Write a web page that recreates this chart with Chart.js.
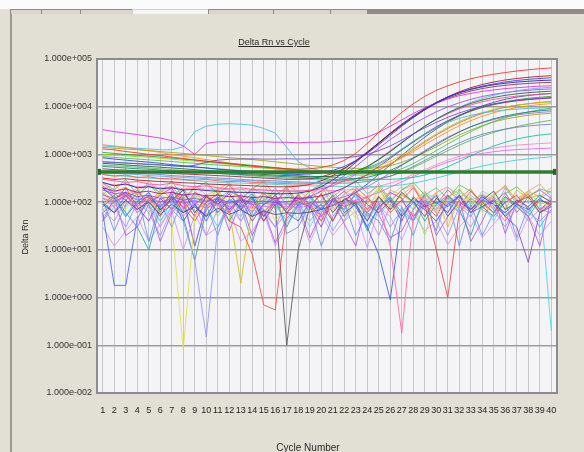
<!DOCTYPE html>
<html>
<head>
<meta charset="utf-8">
<script src="https://cdn.jsdelivr.net/npm/chart.js@4.4.1/dist/chart.umd.min.js"></script>
<style>
  body { margin: 0; background: #e2dfd4; font-family: "Liberation Sans", Arial, sans-serif; }
  #wrap { position: relative; width: 584px; height: 452px; overflow: hidden; }
  #topband { position: absolute; left: 0; top: 0; width: 584px; height: 9px; background: #fbfbfb; }
  .tab { position: absolute; top: 9px; height: 4px; background: #d9d6cb; border: 1px solid #8d8b83; border-bottom: none; }
  #panel { position: absolute; left: 10px; top: 14px; width: 574px; height: 438px; border-left: 2px solid #9a978e; }
  canvas { position: absolute; left: 0; top: 0; }
  .lbl { position: absolute; color: #2a2a2a; white-space: nowrap; text-align: center; }
</style>
</head>
<body>
<div id="wrap">
  <div id="topband"></div>
  <div class="tab" style="left:10px;width:30px"></div>
  <div class="tab" style="left:41px;width:38px"></div>
  <div class="tab" style="left:80px;width:51px"></div>
  <div class="tab" style="left:132px;width:75px;background:#f6f6f4;border-color:#cfcfcf"></div>
  <div class="tab" style="left:208px;width:64px"></div>
  <div class="tab" style="left:273px;width:56px"></div>
  <div class="tab" style="left:330px;width:36px"></div>
  <div class="tab" style="left:367px;width:217px;background:#8e8c88;border-color:#8e8c88"></div>
  <div id="panel"></div>
  <canvas id="chart" width="584" height="452"></canvas>
  <div class="lbl" style="left:174px;top:36px;width:200px;font-size:9px;line-height:12px;text-decoration:underline">Delta Rn vs Cycle</div>
  <div class="lbl" style="left:208px;top:442px;width:200px;font-size:10px;line-height:12px">Cycle Number</div>
  <div class="lbl" style="left:-15px;top:231px;width:80px;font-size:9px;line-height:12px;transform:rotate(-90deg)">Delta Rn</div>
</div>
<script>
const cycles = [1, 2, 3, 4, 5, 6, 7, 8, 9, 10, 11, 12, 13, 14, 15, 16, 17, 18, 19, 20,
  21, 22, 23, 24, 25, 26, 27, 28, 29, 30, 31, 32, 33, 34, 35, 36, 37, 38, 39, 40];

const yTickValues = [0.01, 0.1, 1, 10, 100, 1000, 10000, 100000];
const yTickLabels = ["1.000e-002", "1.000e-001", "1.000e+000", "1.000e+001",
  "1.000e+002", "1.000e+003", "1.000e+004", "1.000e+005"];

const threshold = 430;

// amplifying wells
const a1 = [1300,1250,1150,1080,1000,950,880,820,770,720,680,640,600,570,540,520,500,490,500,530,
  600,750,1050,1700,2900,4800,7600,11500,16500,22000,27500,33000,38500,43500,48000,52000,56000,59500,62500,65000];
const a2 = [850,800,760,720,690,650,610,580,550,520,490,470,450,430,410,400,390,380,390,410,
  460,560,740,1050,1600,2500,3900,5900,8600,12000,15800,19800,23500,27000,30000,33000,35500,37500,39000,40500];
const a3 = [3300,3000,2800,2600,2400,2200,1950,1500,1000,1700,1850,1850,1800,1800,1850,1800,1800,1750,1800,1800,
  1850,1900,2000,2300,2900,3900,5300,7200,9500,12000,14500,17000,19000,21000,22500,24000,25000,26000,27000,27500];
const a4 = [1500,1450,1400,1350,1300,1250,1250,1450,3000,3900,4300,4400,4300,4100,3500,2800,1400,700,520,450,
  420,400,420,480,620,880,1300,1900,2700,3700,4700,5700,6600,7400,8000,8500,8900,9200,9400,9600];
const a5 = [700,680,660,640,620,600,580,560,590,680,760,790,800,810,800,800,810,800,810,820,
  830,850,900,1000,1200,1500,2000,2700,3600,4700,6000,7400,8800,10200,11500,12600,13600,14400,15000,15500];
const a6 = [1100,1050,1000,960,920,880,840,800,760,720,680,650,620,590,560,530,500,470,450,430,
  420,420,450,520,650,880,1250,1800,2600,3600,4900,6400,8000,9700,11300,12700,14000,15000,15800,16500];
const a7 = [650,630,600,580,560,540,520,500,480,460,440,420,400,390,380,370,360,350,340,340,
  350,380,440,560,780,1150,1750,2650,3900,5500,7400,9500,11700,13800,15700,17300,18600,19700,20500,21200];
const a8 = [1600,1500,1400,1300,1200,1100,1000,920,850,780,720,660,610,570,530,500,470,450,430,420,
  410,410,420,450,520,640,840,1150,1600,2200,3000,4000,5100,6300,7500,8600,9600,10400,11100,11600];
const a9 = [1000,980,940,900,870,830,790,760,720,680,650,620,590,560,540,520,500,480,460,450,
  440,440,460,500,580,720,960,1350,1900,2700,3700,4900,6200,7500,8800,9900,10800,11500,12100,12600];
const a10 = [500,480,470,450,440,420,400,390,380,370,360,350,340,330,320,310,300,300,310,340,
  400,510,720,1080,1700,2700,4100,6100,8700,11700,15000,18300,21300,24000,26300,28100,29600,30800,31700,32400];
const a11 = [420,400,390,380,360,350,340,330,320,310,300,290,280,280,270,260,260,250,250,260,
  280,320,400,540,770,1150,1750,2650,3900,5500,7500,9800,12300,14900,17400,19700,21700,23300,24600,25600];
const a12 = [180,150,160,130,140,120,130,110,120,105,115,100,110,100,105,98,102,110,130,170,
  240,360,560,880,1350,2050,3000,4300,5900,7800,9900,12100,14300,16400,18200,19800,21100,22100,23000,23600];
const a13 = [300,280,260,270,240,230,250,220,210,220,200,190,200,185,180,175,170,170,175,190,
  220,280,380,540,800,1200,1800,2700,3900,5400,7100,9000,10900,12700,14300,15600,16700,17600,18300,18800];
const a14 = [560,540,520,500,490,470,450,440,430,410,400,390,380,370,360,350,340,330,320,310,
  300,300,310,330,380,460,600,820,1150,1600,2200,2950,3800,4700,5600,6400,7100,7700,8200,8600];
const a15 = [260,220,240,200,210,190,200,180,185,175,170,165,160,160,155,150,150,155,170,210,
  290,430,680,1100,1750,2800,4300,6400,9100,12300,15900,19600,23000,26100,28800,31000,32800,34200,35300,36100];
const a16 = [900,870,830,800,770,740,710,680,650,620,600,580,560,540,520,500,480,460,440,420,
  400,380,370,370,380,420,500,640,870,1200,1650,2250,3000,3900,4900,5900,6900,7800,8600,9300];
const a17 = [380,350,370,330,340,310,320,300,290,300,280,270,275,260,255,250,245,240,240,245,
  255,275,310,370,470,630,880,1250,1800,2550,3500,4600,5900,7200,8500,9700,10700,11600,12300,12900];
const a18 = [700,680,660,640,620,600,580,560,540,520,500,480,460,440,420,400,380,360,350,340,
  330,320,310,300,300,300,310,330,370,440,550,710,930,1200,1500,1800,2100,2350,2550,2700];
const a19 = [140,120,150,110,130,100,120,95,110,90,105,95,100,90,95,88,92,90,95,100,
  110,130,160,210,290,410,590,850,1200,1700,2300,3000,3800,4600,5400,6100,6700,7200,7600,7900];
const a20 = [200,170,190,160,170,150,160,140,150,135,140,130,135,125,130,120,125,120,125,135,
  160,200,270,380,560,830,1250,1850,2700,3800,5100,6600,8200,9700,11100,12300,13300,14100,14700,15200];
const a21 = [450,440,420,400,390,380,360,350,340,330,320,310,300,290,285,280,270,265,260,255,
  250,250,255,270,300,350,430,560,750,1000,1350,1750,2200,2650,3050,3400,3700,3950,4150,4300];
const a22 = [1400,1350,1300,1250,1200,1150,1100,1050,1000,950,900,860,820,780,740,700,660,620,590,560,
  540,520,510,510,530,580,680,850,1100,1450,1950,2550,3250,4000,4800,5500,6100,6600,7000,7300];
const a23 = [250,230,240,210,220,200,210,190,200,185,190,180,185,175,180,170,175,170,175,170,
  175,180,185,195,215,250,300,380,480,610,760,920,1080,1230,1360,1470,1560,1630,1690,1740];
const a24 = [320,300,310,290,280,270,265,255,250,240,235,230,225,220,215,210,210,215,235,280,
  360,500,740,1130,1750,2700,4100,6100,8800,12200,16200,20600,25000,29200,33000,36300,39100,41400,43200,44700];
const a25 = [380,360,350,330,320,310,300,290,280,270,260,255,250,245,240,235,230,225,220,218,
  215,212,210,210,212,218,230,250,280,320,370,430,500,570,640,700,760,810,850,890];
const a26 = [120,100,130,90,110,85,100,80,95,75,90,80,85,78,82,76,80,78,82,85,
  90,98,110,130,160,205,265,345,445,560,690,820,940,1050,1140,1210,1260,1300,1330,1350];
const a27 = [600,580,560,540,520,500,480,460,440,420,400,385,370,355,340,330,320,310,300,290,
  285,280,280,290,310,350,420,530,690,910,1200,1560,1980,2430,2900,3380,3850,4300,4750,5200];
const a28 = [90,60,110,70,100,55,90,60,80,50,75,55,70,50,65,55,60,58,62,70,
  85,110,160,240,380,600,950,1500,2300,3400,4800,6500,8400,10400,12400,14300,15900,17200,18200,19000];

// non-amplifying (noisy) wells
const n1 = [60,1.8,1.8,45,120,80,150,60,90,40,110,70,130,50,90,120,60,40,100,70,
  140,60,90,30,80,120,50,100,70,40,90,130,60,80,110,50,90,70,120,80];
const n2 = [90,130,70,150,110,60,40,0.08,50,120,80,160,100,70,130,40,90,150,60,100,
  70,120,45,90,140,80,60,110,150,70,40,100,130,60,90,120,70,150,100,80];
const n3 = [40,80,30,100,60,20,70,40,6,0.15,30,90,50,110,70,30,60,100,40,80,
  25,60,110,50,90,30,70,40,100,60,20,80,50,120,70,30,90,60,40,70];
const n4 = [150,100,200,80,130,60,170,110,50,140,90,40,30,8,0.7,0.55,60,120,80,150,
  40,100,180,70,130,60,110,200,90,50,140,80,170,100,60,130,90,150,70,110];
const n5 = [200,120,160,90,140,70,110,180,60,130,90,150,70,120,40,90,0.1,10,80,150,
  60,120,90,40,130,70,160,100,50,120,80,140,60,110,170,70,100,130,60,90];
const n6 = [120,80,160,60,100,140,70,110,50,130,90,60,150,80,40,110,70,130,90,50,
  120,80,150,60,100,12,0.18,50,110,70,140,90,60,120,80,40,100,150,70,90];
const n7 = [70,110,50,130,90,40,100,60,140,80,30,110,70,50,120,90,40,80,130,60,
  100,70,150,50,90,120,60,40,110,80,130,60,100,70,50,120,90,60,150,0.2];
const n8 = [100,60,140,80,40,120,70,150,90,50,130,70,110,40,90,140,60,100,80,30,
  120,70,150,90,60,110,40,130,80,100,60,140,70,110,90,50,30,5.5,60,80];
const n9 = [80,130,50,100,160,70,120,40,90,140,60,110,80,130,50,100,70,150,60,90,
  40,120,80,30,8,0.9,60,120,80,140,50,100,70,130,90,60,110,80,140,100];
const n10 = [60,100,140,70,110,50,130,80,40,100,150,60,120,90,50,110,70,140,90,40,
  120,80,100,60,130,70,110,50,90,10,1,60,120,80,50,100,140,70,110,90];
const n11 = [250,180,300,140,220,160,280,120,200,260,150,230,110,190,270,140,210,90,170,240,
  130,200,280,150,220,100,180,260,140,200,120,230,170,90,60,150,210,130,190,160];
const n12 = [180,240,130,200,90,160,220,110,190,70,150,230,120,180,60,140,200,100,170,230,
  80,150,210,120,60,180,140,220,100,160,30,120,190,80,150,210,110,170,130,200];
const n13 = [90,140,60,30,10,80,130,50,6,70,120,40,100,150,60,110,30,90,140,70,
  120,50,100,25,80,130,60,110,40,90,140,70,20,100,60,130,80,50,110,90];
const n14 = [130,90,170,110,60,150,100,200,80,140,50,120,180,90,150,70,130,40,110,170,
  90,140,60,120,180,80,150,100,20,130,90,160,110,70,140,50,120,170,90,110];
const n15 = [70,40,110,60,90,30,80,50,100,20,70,110,40,90,60,30,100,70,130,50,
  80,40,110,60,20,90,50,120,70,40,100,60,30,80,110,50,90,40,70,60];
const n16 = [160,110,200,140,90,180,120,60,150,100,190,70,2,80,170,110,60,140,190,90,
  130,50,160,110,200,80,140,100,170,60,120,190,90,150,110,70,180,120,140,100];
const n17 = [220,150,110,180,90,140,200,70,160,120,80,170,130,60,150,100,190,80,140,50,
  110,170,90,130,70,160,120,40,150,90,180,110,70,140,100,160,60,130,180,120];
const n18 = [50,90,140,70,110,40,80,130,60,100,150,80,40,120,90,60,140,100,30,80,
  120,70,150,90,50,110,80,40,130,70,100,60,140,90,40,120,80,110,60,130];
const n19 = [40,120,20,30,90,15,60,110,12,80,130,25,100,20,70,14,45,90,18,60,
  110,35,12,130,55,18,25,70,140,20,50,110,15,40,130,22,100,50,12,120];
const n20 = [110,25,90,150,15,100,30,130,12,90,20,120,80,14,110,160,22,30,90,12,
  50,100,20,60,40,15,80,20,100,25,140,12,90,20,60,100,18,80,30,70];
const n21 = [250,160,210,120,280,150,190,90,230,140,180,260,110,200,150,80,220,170,120,240,
  150,90,200,130,250,110,180,230,70,160,210,120,190,80,140,220,100,170,240,130];
const n22 = [150,200,110,170,240,130,90,180,120,220,160,100,190,140,230,100,170,60,150,200,
  110,170,130,70,180,140,210,90,160,120,200,150,80,170,130,230,100,150,60,140];
const n23 = [30,12,25,50,15,35,65,10,55,20,30,70,15,25,60,12,35,70,14,55,
  20,40,65,11,80,50,16,60,25,40,13,30,55,18,35,65,15,50,20,40];
const n24 = [200,130,80,160,110,60,140,190,90,50,120,170,70,140,100,200,80,130,60,110,
  170,90,140,40,100,160,120,70,150,100,60,180,110,140,70,200,90,60,120,170];

const wells = [a1, a2, a3, a4, a5, a6, a7, a8, a9, a10, a11, a12, a13, a14, a15, a16, a17, a18, a19, a20,
  a21, a22, a23, a24, a25, a26, a27, a28,
  n1, n2, n3, n4, n5, n6, n7, n8, n9, n10, n11, n12, n13, n14, n15, n16, n17, n18, n19, n20, n21, n22, n23, n24];

const wellColors = ["#ff2020", "#2030ff", "#e020e0", "#40b8f0", "#6a3cc8", "#20a020", "#106010", "#ff8c00",
  "#a0d000", "#902020", "#60a0ff", "#9040ff", "#ff40a0", "#008080", "#1010b0", "#40c040", "#ff5030", "#00c0a0",
  "#a060e0", "#a000a0", "#6080c0", "#a0a000", "#ff80c0", "#c00000", "#30d0d0", "#e060ff", "#50b050", "#4040a0",
  "#4060ff", "#e0e040", "#9090ff", "#ff4040", "#505050", "#ff60a0", "#40d0e0", "#8040c0", "#3050e0", "#e04040",
  "#60c060", "#ffa040", "#20a0a0", "#a0e060", "#c080ff", "#d0c000", "#d040d0", "#80c0ff",
  "#b050e0", "#6090e0", "#ff9090", "#90d0b0", "#d090ff", "#50c0ff"];

const fontFamily = "'Liberation Sans', Arial, sans-serif";

const plotFrame = {
  id: "plotFrame",
  beforeDraw(chart) {
    const a = chart.chartArea;
    const c = chart.ctx;
    c.save();
    c.fillStyle = "#f4f4f6";
    c.fillRect(a.left, a.top, a.right - a.left, a.bottom - a.top);
    c.restore();
  },
  afterDatasetsDraw(chart) {
    const a = chart.chartArea;
    const c = chart.ctx;
    const y = chart.scales.y.getPixelForValue(threshold);
    c.save();
    c.strokeStyle = "#2f7d2f";
    c.lineWidth = 3.5;
    c.beginPath();
    c.moveTo(a.left, y);
    c.lineTo(a.right, y);
    c.stroke();
    c.fillStyle = "#236b23";
    c.fillRect(a.left - 1, y - 3, 5, 6);
    c.fillRect(a.right - 4, y - 3, 5, 6);
    c.restore();
  },
  afterDraw(chart) {
    const a = chart.chartArea;
    const c = chart.ctx;
    c.save();
    c.strokeStyle = "#8c8c8c";
    c.lineWidth = 2;
    c.strokeRect(a.left, a.top, a.right - a.left, a.bottom - a.top);
    c.restore();
  }
};

const datasets = wells.map((w, i) => ({
  data: w,
  borderColor: wellColors[i] + "d0",
  borderWidth: 1,
  pointRadius: 0,
  tension: 0,
  fill: false
}));

new Chart(document.getElementById("chart"), {
  type: "line",
  data: { labels: cycles, datasets: datasets },
  options: {
    responsive: false,
    animation: false,
    layout: { padding: { top: 59, right: 27, left: 0, bottom: 0 } },
    plugins: { legend: { display: false }, tooltip: { enabled: false }, title: { display: false } },
    scales: {
      x: {
        type: "category",
        offset: true,
        grid: { color: "#c6c6cb", lineWidth: 1, drawTicks: false, offset: false },
        border: { display: false },
        ticks: { autoSkip: false, maxRotation: 0, minRotation: 0, padding: 12, color: "#222", font: { size: 9, family: fontFamily } },
        afterFit(s) { s.height = 59; }
      },
      y: {
        type: "logarithmic",
        min: 0.01,
        max: 100000,
        grid: { color: "#9d9d9d", lineWidth: 1.5, drawTicks: false },
        border: { display: false },
        ticks: { padding: 5, color: "#333", font: { size: 9, family: fontFamily }, callback: (v, i) => yTickLabels[i] },
        afterBuildTicks(s) { s.ticks = yTickValues.map(v => ({ value: v })); },
        afterFit(s) { s.width = 97; }
      }
    }
  },
  plugins: [plotFrame]
});
</script>
</body>
</html>
